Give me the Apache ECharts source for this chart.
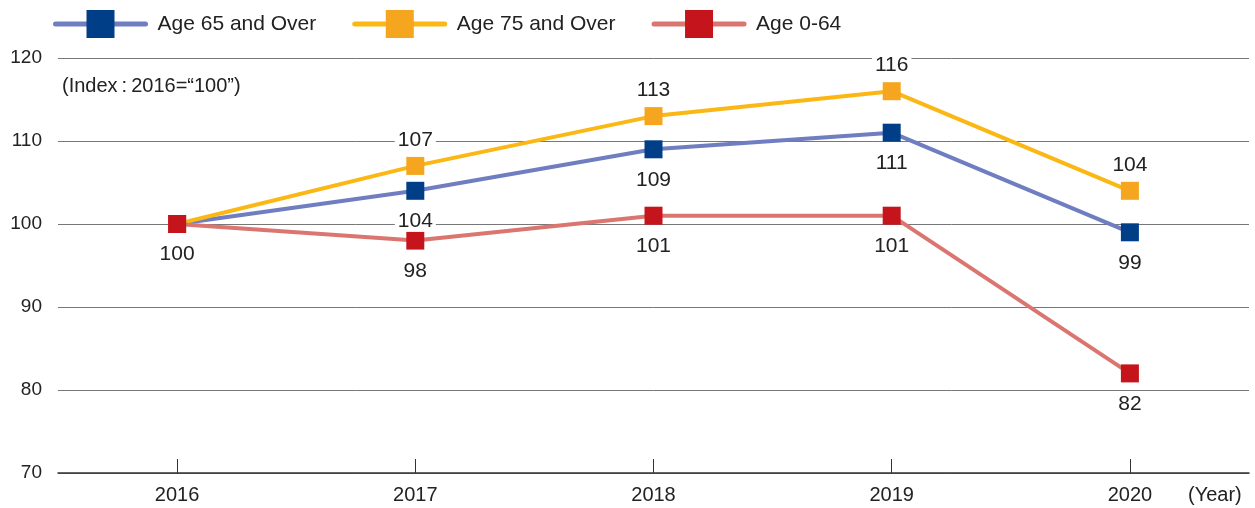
<!DOCTYPE html>
<html>
<head>
<meta charset="utf-8">
<script src="https://cdn.jsdelivr.net/npm/echarts@6/dist/echarts.min.js"></script>
<style>
  html, body { margin: 0; padding: 0; background: #fff; }
  #chart { width: 1255px; height: 508px; }
</style>
</head>
<body>
<div id="chart"></div>
<script>
// 年份
const years = ["2016", "2017", "2018", "2019", "2020"];
// 指数数据 (2016 = 100)
const age65Over = [100, 104, 109, 111, 99];
const age75Over = [100, 107, 113, 116, 104];
const age0to64 = [100, 98, 101, 101, 82];
const seriesNames = ["Age 65 and Over", "Age 75 and Over", "Age 0-64"];

const FONT = "Liberation Sans, Arial, sans-serif";

// 数据标签，2016 只显示一次
const makeData = (values, hideFirst) =>
  values.map((v, i) => ({
    value: v,
    label: { show: !(hideFirst && i === 0) },
  }));

const makeSeries = (name, values, lineColor, markColor, pos, hideFirst) => ({
  name: name,
  type: "line",
  data: makeData(values, hideFirst),
  symbol: "rect",
  symbolSize: 18,
  lineStyle: { color: lineColor, width: 4 },
  itemStyle: { color: markColor },
  label: {
    show: true,
    position: pos,
    distance: pos === "top" ? 6 : 11,
    color: "#222",
    fontSize: 21,
    fontFamily: FONT,
    backgroundColor: "#fff",
    padding: [0, 3],
  },
  emphasis: { disabled: true },
});

const chart = echarts.init(document.getElementById("chart"));
const option = {
  animation: false,
  grid: { left: 58, right: 6, top: 58, bottom: 35 },
  legend: {
    top: 5,
    left: 48,
    itemWidth: 90,
    itemHeight: 35,
    itemGap: 36,
    lineStyle: { width: 5, cap: "round" },
    textStyle: {
      color: "#222",
      fontSize: 21,
      fontFamily: FONT,
      padding: [0, 0, 0, 7],
    },
    data: seriesNames,
  },
  xAxis: {
    type: "category",
    data: years,
    boundaryGap: true,
    axisLine: { lineStyle: { color: "#333", width: 1.5 } },
    axisTick: {
      show: true,
      alignWithLabel: true,
      inside: true,
      length: 14,
      lineStyle: { color: "#333", width: 1 },
    },
    axisLabel: { color: "#222", fontSize: 20, fontFamily: FONT, margin: 12 },
  },
  yAxis: {
    type: "value",
    min: 70,
    max: 120,
    interval: 10,
    axisLine: { show: false },
    axisTick: { show: false },
    axisLabel: { color: "#222", fontSize: 19, fontFamily: FONT, margin: 16 },
    splitLine: { lineStyle: { color: "#777", width: 1 } },
  },
  graphic: [
    {
      type: "text",
      left: 62,
      top: 76,
      style: {
        text: "(Index\u2009:\u20092016=\u201c100\u201d)",
        fill: "#222",
        font: "20px " + FONT,
      },
    },
    {
      type: "text",
      left: 1188,
      top: 485,
      style: { text: "(Year)", fill: "#222", font: "20px " + FONT },
    },
  ],
  series: [
    makeSeries(seriesNames[0], age65Over, "#6f7dc1", "#003f87", "bottom", true),
    makeSeries(seriesNames[1], age75Over, "#fbb714", "#f6a51e", "top", true),
    makeSeries(seriesNames[2], age0to64, "#db7570", "#c5141c", "bottom", false),
  ],
};
chart.setOption(option);
</script>
</body>
</html>
